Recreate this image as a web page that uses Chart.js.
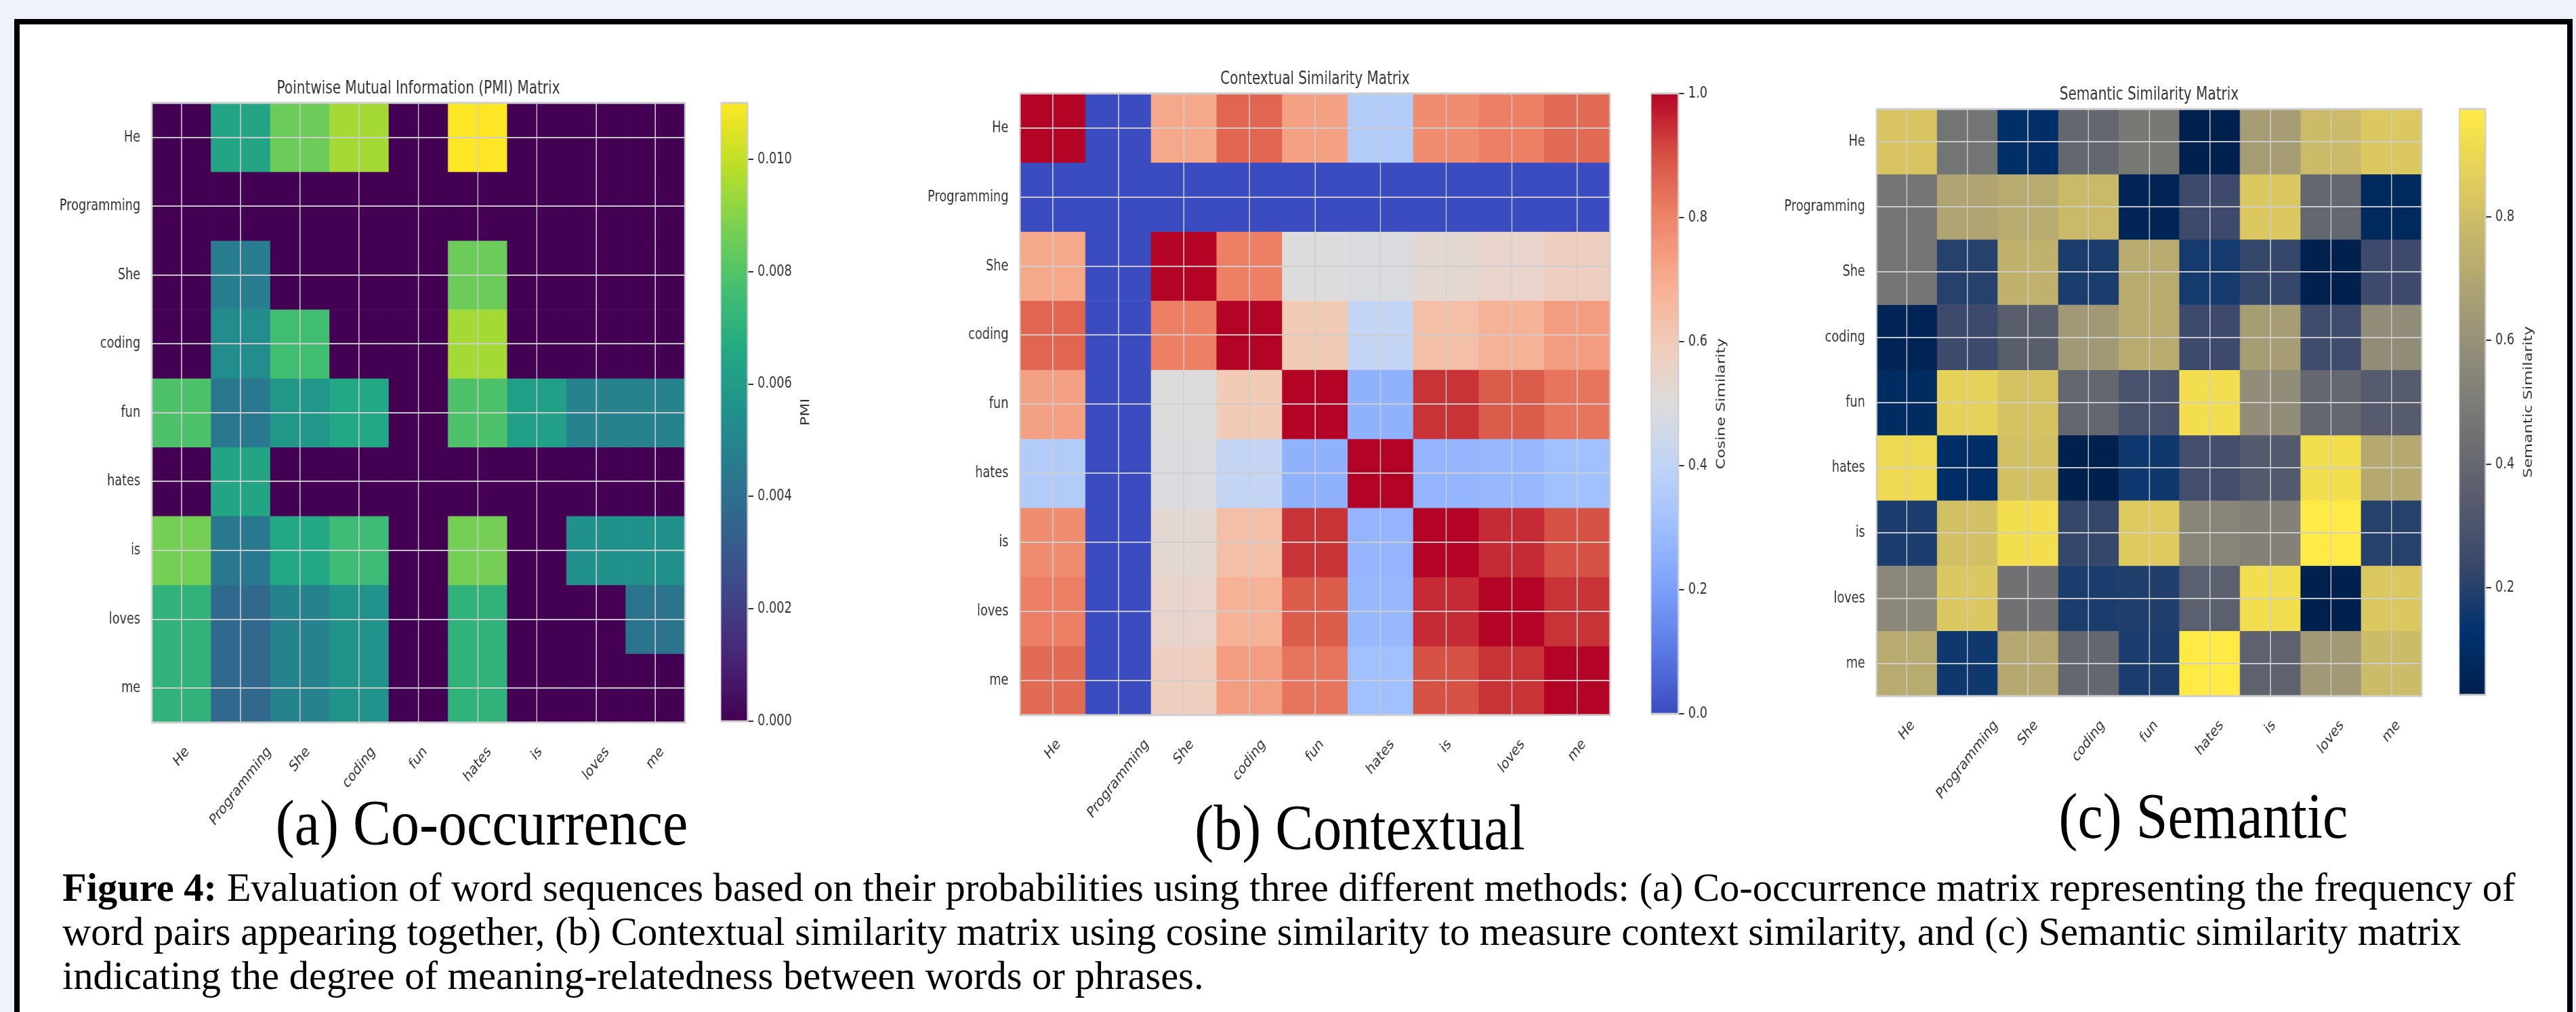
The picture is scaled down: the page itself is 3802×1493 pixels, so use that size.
<!DOCTYPE html>
<html>
<head>
<meta charset="utf-8">
<title>Figure 4 - word sequence matrices</title>
<script src="https://cdn.jsdelivr.net/npm/chart.js"></script>
<style>
    html, body { margin: 0; padding: 0; overflow: hidden; }
    body { width: 3802px; height: 1493px; background: #eef3fb; position: relative; font-family: "Liberation Serif", "Times New Roman", serif; }
    #frame { position: absolute; left: 21px; top: 28px; width: 3776px; height: 1600px; box-sizing: border-box; border: 8px solid #000; background: #fff; }
    #squeeze { position: absolute; left: 0; top: 0; height: 1493px; transform-origin: 0 0; }
    #squeeze canvas { position: absolute; }
    .sub { position: absolute; width: 1000px; text-align: center; font-size: 96px; line-height: 96px; color: #000; white-space: nowrap; transform: scaleX(0.875); transform-origin: 50% 50%; }
    #caption { position: absolute; left: 92px; top: 1277px; font-size: 58.5px; line-height: 65px; color: #000; white-space: nowrap; }
</style>
</head>

<body>
    <div id="frame"></div>
    <div id="squeeze"></div>

    <div class="sub" style="left:211px; top:1166px;">(a) Co-occurrence</div>
    <div class="sub" style="left:1507px; top:1173px;">(b) Contextual</div>
    <div class="sub" style="left:2752px; top:1156px;">(c) Semantic</div>

    <div id="caption"><b>Figure 4:</b> Evaluation of word sequences based on their probabilities using three different methods: (a) Co-occurrence matrix representing the frequency of<br>word pairs appearing together, (b) Contextual similarity matrix using cosine similarity to measure context similarity, and (c) Semantic similarity matrix<br>indicating the degree of meaning-relatedness between words or phrases.</div>

    <script>
        // words on both axes
        const words = ['He', 'Programming', 'She', 'coding', 'fun', 'hates', 'is', 'loves', 'me'];

        // (a) PMI values, one row per word
        const pmiRows = [
            [0, 0.0064, 0.0085, 0.0095, 0, 0.0110, 0, 0, 0],
            [0, 0, 0, 0, 0, 0, 0, 0, 0],
            [0, 0.0046, 0, 0, 0, 0.0085, 0, 0, 0],
            [0, 0.0053, 0.0076, 0, 0, 0.0095, 0, 0, 0],
            [0.0079, 0.0044, 0.0058, 0.0066, 0, 0.0079, 0.0062, 0.0049, 0.0049],
            [0, 0.0064, 0, 0, 0, 0, 0, 0, 0],
            [0.0087, 0.0044, 0.0066, 0.0075, 0, 0.0087, 0, 0.0055, 0.0055],
            [0.0071, 0.0037, 0.0049, 0.0056, 0, 0.0071, 0, 0, 0.0042],
            [0.0071, 0.0037, 0.0049, 0.0056, 0, 0.0071, 0, 0, 0]
        ];

        // (b) cosine similarity
        const cosRows = [
            [1.00, 0, 0.71, 0.86, 0.73, 0.36, 0.78, 0.81, 0.85],
            [0, 0, 0, 0, 0, 0, 0, 0, 0],
            [0.71, 0, 1.00, 0.81, 0.50, 0.49, 0.53, 0.55, 0.58],
            [0.86, 0, 0.81, 1.00, 0.60, 0.41, 0.64, 0.68, 0.74],
            [0.73, 0, 0.50, 0.60, 1.00, 0.26, 0.94, 0.88, 0.83],
            [0.36, 0, 0.49, 0.41, 0.26, 1.00, 0.27, 0.28, 0.31],
            [0.78, 0, 0.53, 0.64, 0.94, 0.27, 1.00, 0.95, 0.90],
            [0.81, 0, 0.55, 0.68, 0.88, 0.28, 0.95, 1.00, 0.94],
            [0.85, 0, 0.58, 0.74, 0.83, 0.31, 0.90, 0.94, 1.00]
        ];

        // (c) semantic similarity
        const semRows = [
            [0.83, 0.46, 0.11, 0.40, 0.48, 0.026, 0.66, 0.79, 0.84],
            [0.47, 0.69, 0.72, 0.78, 0.05, 0.25, 0.84, 0.40, 0.08],
            [0.47, 0.20, 0.75, 0.18, 0.72, 0.17, 0.23, 0.03, 0.25],
            [0.05, 0.25, 0.35, 0.64, 0.72, 0.25, 0.66, 0.26, 0.58],
            [0.09, 0.88, 0.82, 0.40, 0.29, 0.93, 0.58, 0.40, 0.34],
            [0.91, 0.10, 0.81, 0.03, 0.16, 0.27, 0.33, 0.93, 0.71],
            [0.18, 0.81, 0.93, 0.23, 0.85, 0.54, 0.53, 0.975, 0.20],
            [0.56, 0.84, 0.45, 0.18, 0.19, 0.36, 0.93, 0.026, 0.84],
            [0.72, 0.16, 0.71, 0.40, 0.18, 0.975, 0.37, 0.64, 0.79]
        ];

        // colorbar ticks
        const pmiTicks = [0, 0.002, 0.004, 0.006, 0.008, 0.010];
        const cosTicks = [0, 0.2, 0.4, 0.6, 0.8, 1.0];
        const semTicks = [0.2, 0.4, 0.6, 0.8];

        // the chart images are squeezed sideways in the figure
        const S = 0.77;
        const FONT = 'DejaVu Sans';
        const TICK_PX = 23;
        const TXT = '#333333';
        const GRID = 'rgba(205,205,205,0.95)';
        const EDGE = '#cfcfcf';
        const Y_W = 200, X_H = 260, X_PAD = 30, TITLE_H = 34, CB_W = 200;

        const squeeze = document.getElementById('squeeze');
        squeeze.style.width = (3802 / S) + 'px';
        squeeze.style.transform = 'scaleX(' + S + ')';

        // colormaps (matplotlib anchors)
        function makeCmap(hexes) {
            const rgb = hexes.map(h => [1, 3, 5].map(i => parseInt(h.substr(i, 2), 16)));
            return t => {
                t = Math.max(0, Math.min(1, t));
                const pos = t * (rgb.length - 1);
                const i = Math.min(Math.floor(pos), rgb.length - 2);
                const f = pos - i;
                const c = rgb[i].map((v, k) => Math.round(v + (rgb[i + 1][k] - v) * f));
                return 'rgb(' + c.join(',') + ')';
            };
        }
        const viridis = makeCmap(['#440154', '#482475', '#414487', '#355f8d', '#2a788e', '#21918c', '#22a884', '#44bf70', '#7ad151', '#bddf26', '#fde725']);
        const coolwarm = makeCmap(['#3b4cc0', '#5a78e4', '#7b9ff9', '#9ebeff', '#c0d4f5', '#dddcdc', '#f2cbb7', '#f7ac8e', '#ee8468', '#d65244', '#b40426']);
        const cividis = makeCmap(['#00204d', '#00336f', '#39486b', '#575c6d', '#707173', '#8a8779', '#a69d75', '#c4b56c', '#e4cf5b', '#ffea46']);

        // panel positions in page pixels
        const panelA = { plot: [224, 1011, 150, 1066], bar: [1063, 1103] };
        const panelB = { plot: [1505, 2376, 136, 1055], bar: [2436, 2477] };
        const panelC = { plot: [2770, 3575, 159, 1027], bar: [3629, 3668] };

        function addCanvas(left, top, w, h) {
            const c = document.createElement('canvas');
            c.width = Math.round(w);
            c.height = Math.round(h);
            c.style.left = left + 'px';
            c.style.top = top + 'px';
            c.style.width = Math.round(w) + 'px';
            c.style.height = Math.round(h) + 'px';
            squeeze.appendChild(c);
            return c.getContext('2d');
        }

        const framePlugin = {
            id: 'frame',
            afterDraw(chart) {
                const a = chart.chartArea, c = chart.ctx;
                c.save();
                c.strokeStyle = EDGE;
                c.lineWidth = 3;
                c.strokeRect(a.left, a.top, a.right - a.left, a.bottom - a.top);
                c.restore();
            }
        };

        // x labels rotated 45deg and centred under their tick (matplotlib ha='center')
        const xLabelPlugin = {
            id: 'xLabels',
            afterDraw(chart) {
                const xs = chart.scales.x, a = chart.chartArea, c = chart.ctx;
                const h = TICK_PX * 1.17;
                c.save();
                c.font = TICK_PX + 'px "' + FONT + '"';
                c.fillStyle = TXT;
                c.textAlign = 'center';
                c.textBaseline = 'middle';
                chart.data.labels.forEach((w, i) => {
                    const half = (c.measureText(w).width + h) * Math.SQRT1_2 / 2;
                    c.save();
                    c.translate(xs.getPixelForValue(i), a.bottom + X_PAD + half);
                    c.rotate(-Math.PI / 4);
                    c.fillText(w, 0, 0);
                    c.restore();
                });
                c.restore();
            }
        };

        const cbLabelPlugin = {
            id: 'cbLabel',
            afterDraw(chart, args, opts) {
                const y = chart.scales.y, c = chart.ctx, a = chart.chartArea;
                c.save();
                c.font = TICK_PX + 'px "' + FONT + '"';
                let w = 0;
                y.ticks.forEach(t => { w = Math.max(w, c.measureText(t.label).width); });
                const x = y.left + 11 + 8 + w + 27;
                c.translate(x, (a.top + a.bottom) / 2);
                c.rotate(-Math.PI / 2);
                c.font = '23px "' + FONT + '"';
                c.fillStyle = TXT;
                c.textAlign = 'center';
                c.textBaseline = 'middle';
                c.fillText(opts.text, 0, 0);
                c.restore();
            }
        };

        function drawHeatmap(p, rows, cmap, title) {
            const flat = rows.flat();
            const lo = Math.min(...flat), hi = Math.max(...flat);
            const L = p.plot[0] / S, R = p.plot[1] / S, T = p.plot[2], B = p.plot[3];
            const ctx = addCanvas(L - Y_W, T - TITLE_H, Y_W + (R - L) + 20, TITLE_H + (B - T) + X_H);
            new Chart(ctx, {
                type: 'bar',
                data: {
                    labels: words,
                    datasets: rows.map((row, r) => ({
                        data: row.map(() => [r, r + 1]),
                        backgroundColor: row.map(v => cmap((v - lo) / (hi - lo))),
                        borderWidth: 0,
                        grouped: false,
                        categoryPercentage: 1,
                        barPercentage: 1
                    }))
                },
                options: {
                    responsive: false,
                    devicePixelRatio: 1,
                    animation: false,
                    events: [],
                    layout: { padding: { left: 0, right: 20, top: 0, bottom: 0 } },
                    plugins: {
                        legend: { display: false },
                        tooltip: { enabled: false },
                        title: {
                            display: true, text: title, color: TXT, fullSize: false,
                            padding: { top: 0, bottom: 8 },
                            font: { family: FONT, size: 26, weight: 'normal', lineHeight: 1 }
                        }
                    },
                    scales: {
                        x: {
                            type: 'category',
                            offset: true,
                            grid: { offset: false, color: GRID, lineWidth: 2, drawTicks: false, z: 1 },
                            border: { display: false },
                            ticks: { display: false, autoSkip: false },
                            afterFit: s => { s.height = X_H; }
                        },
                        y: {
                            type: 'linear',
                            min: 0,
                            max: words.length,
                            reverse: true,
                            grid: { color: GRID, lineWidth: 2, drawTicks: false, z: 1 },
                            border: { display: false },
                            afterBuildTicks: s => { s.ticks = words.map((w, i) => ({ value: i + 0.5 })); },
                            ticks: { color: TXT, font: { family: FONT, size: TICK_PX }, padding: 22, autoSkip: false, callback: (v, i) => words[i] },
                            afterFit: s => { s.width = Y_W; }
                        }
                    }
                },
                plugins: [framePlugin, xLabelPlugin]
            });
            return [lo, hi];
        }

        function drawColorbar(p, range, ticks, digits, cmap, label) {
            const L = p.bar[0] / S, R = p.bar[1] / S, T = p.plot[2], B = p.plot[3];
            const ctx = addCanvas(L, T - 20, (R - L) + CB_W, (B - T) + 40);
            new Chart(ctx, {
                type: 'bar',
                data: {
                    labels: [label],
                    datasets: [{
                        data: [range],
                        backgroundColor: (c) => {
                            const area = c.chart.chartArea;
                            if (!area) return cmap(0.5);
                            const g = c.chart.ctx.createLinearGradient(0, area.bottom, 0, area.top);
                            for (let i = 0; i <= 40; i++) g.addColorStop(i / 40, cmap(i / 40));
                            return g;
                        },
                        borderWidth: 0,
                        categoryPercentage: 1,
                        barPercentage: 1
                    }]
                },
                options: {
                    responsive: false,
                    devicePixelRatio: 1,
                    animation: false,
                    events: [],
                    layout: { padding: { left: 0, right: 0, top: 20, bottom: 20 } },
                    plugins: {
                        legend: { display: false },
                        tooltip: { enabled: false },
                        cbLabel: { text: label }
                    },
                    scales: {
                        x: { display: false, offset: true },
                        y: {
                            position: 'right',
                            min: range[0],
                            max: range[1],
                            afterBuildTicks: s => { s.ticks = ticks.map(v => ({ value: v })); },
                            grid: { display: true, drawOnChartArea: false, drawTicks: true, tickLength: 11, color: TXT, lineWidth: 2 },
                            border: { display: false },
                            ticks: { color: TXT, font: { family: FONT, size: TICK_PX }, padding: 8, callback: v => v.toFixed(digits) },
                            afterFit: s => { s.width = CB_W; }
                        }
                    }
                },
                plugins: [framePlugin, cbLabelPlugin]
            });
        }

        const pmiRange = drawHeatmap(panelA, pmiRows, viridis, 'Pointwise Mutual Information (PMI) Matrix');
        drawColorbar(panelA, pmiRange, pmiTicks, 3, viridis, 'PMI');

        const cosRange = drawHeatmap(panelB, cosRows, coolwarm, 'Contextual Similarity Matrix');
        drawColorbar(panelB, cosRange, cosTicks, 1, coolwarm, 'Cosine Similarity');

        const semRange = drawHeatmap(panelC, semRows, cividis, 'Semantic Similarity Matrix');
        drawColorbar(panelC, semRange, semTicks, 1, cividis, 'Semantic Similarity');
    </script>
</body>

</html>
